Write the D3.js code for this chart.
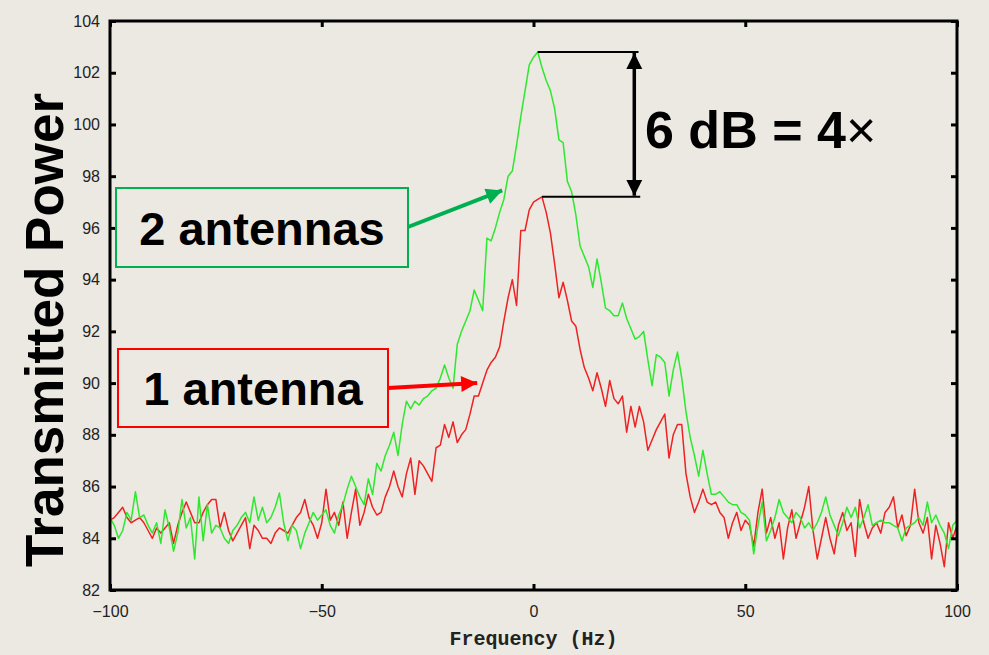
<!DOCTYPE html>
<html><head><meta charset="utf-8">
<script src="https://cdn.jsdelivr.net/npm/d3@7"></script>
<style>
html,body{margin:0;padding:0;background:#ECE9E3;}
svg{display:block;}
</style></head>
<body>
<svg id="c" width="989" height="655"></svg>
<script>
// ---- data ----
const freqs = d3.range(-100, 101, 1);
const twoAntennas = [
 84.8,84.5,84.0,84.3,85.0,84.7,85.8,84.8,84.9,84.5,
 84.2,84.6,83.8,85.1,84.4,83.5,84.2,85.5,84.4,84.8,
 83.2,85.6,83.9,85.3,84.2,84.5,84.4,84.0,83.8,84.3,
 84.5,84.8,85.0,84.6,85.6,84.7,85.2,84.6,84.8,85.2,
 85.75,84.6,83.9,84.5,84.3,83.6,84.2,84.6,85.0,84.7,
 84.9,85.1,84.5,84.2,84.9,85.3,85.9,86.4,86.0,85.6,
 85.3,86.3,85.7,86.9,86.6,87.2,87.6,88.1,87.2,88.4,
 89.3,89.0,89.3,89.15,89.4,89.5,89.7,89.8,90.2,90.7,
 90.2,89.8,91.5,92.0,92.4,92.8,93.6,93.2,92.8,95.6,
 95.5,96.0,96.6,97.1,98.0,98.2,99.2,100.3,101.3,102.3,
 102.6,102.8,102.2,101.7,101.3,100.6,99.4,99.3,97.8,97.4,
 96.5,95.3,94.9,94.5,93.7,94.8,93.9,92.9,92.8,92.6,
 92.6,93.1,92.5,92.1,91.7,91.8,92.0,90.9,89.9,91.1,
 91.0,90.8,89.5,90.5,91.2,90.2,88.9,87.9,87.2,86.4,
 87.4,86.5,85.7,85.7,85.8,85.6,85.4,85.3,85.3,85.0,
 84.9,84.7,83.4,84.5,85.4,83.9,84.3,84.8,85.5,85.0,
 84.8,84.6,85.0,84.8,84.4,84.6,84.3,84.6,85.0,85.6,
 84.9,84.5,84.1,84.6,85.2,84.8,85.2,84.4,84.8,85.3,
 84.5,84.6,84.7,84.6,84.6,84.5,84.4,83.9,84.4,84.5,
 84.6,84.8,84.5,85.4,84.6,84.9,84.5,84.2,83.6,84.5,84.7
];
const oneAntenna = [
 84.7,84.8,85.0,85.2,84.8,84.6,84.7,84.8,84.6,84.3,
 84.0,84.4,84.2,84.4,84.6,83.8,84.5,85.0,85.4,85.0,
 84.6,84.6,85.0,85.3,85.5,85.5,84.4,85.0,84.3,83.9,
 84.2,84.5,84.8,83.6,84.5,84.3,84.0,84.0,83.8,84.2,
 84.4,84.3,84.2,84.5,84.8,85.0,85.5,84.8,84.5,84.0,
 84.6,85.9,84.7,85.0,84.5,85.4,84.0,85.0,85.9,84.5,
 85.0,85.7,85.2,84.9,85.0,85.6,86.0,86.6,86.0,85.6,
 86.5,87.1,85.7,87.0,86.8,86.5,86.2,87.5,87.6,88.4,
 87.9,88.5,87.7,88.0,88.2,88.8,89.5,89.5,90.0,90.5,
 90.8,91.0,91.4,92.4,93.3,94.0,93.0,95.9,95.9,96.7,
 97.0,97.1,97.2,96.6,95.8,94.6,93.3,93.9,93.2,92.4,
 92.2,91.3,90.6,90.2,89.7,90.4,89.8,89.1,90.1,89.4,
 89.2,89.5,88.1,89.1,88.3,89.1,88.5,87.4,87.8,88.2,
 88.5,88.8,87.1,88.0,88.4,88.4,86.5,85.6,85.0,85.4,
 85.9,85.4,85.3,85.4,85.0,84.8,84.0,84.6,85.0,84.3,
 84.7,84.5,83.7,85.0,85.9,84.2,84.8,84.0,84.6,83.2,
 84.4,85.1,84.0,84.6,85.2,86.0,84.3,83.2,84.0,84.8,
 84.0,83.4,84.5,85.0,84.3,84.6,83.3,85.5,84.6,84.0,
 84.4,84.6,84.2,85.0,85.2,85.6,84.4,84.9,84.1,84.5,
 85.9,84.6,84.2,84.8,83.2,84.5,83.8,82.9,84.6,84.0,84.5
];
const xTicks = [-100, -50, 0, 50, 100];
const yTicks = [82, 84, 86, 88, 90, 92, 94, 96, 98, 100, 102, 104];
const seriesNames = ["1 antenna", "2 antennas"];
const xLabel = "Frequency (Hz)";
const yLabel = "Transmitted Power";
const gainLabel = "6 dB = 4";

// ---- layout ----
const svg = d3.select("#c");
const L = 110, R = 957, T = 21, B = 590;
const x = d3.scaleLinear().domain([-100, 100]).range([L, R]);
const y = d3.scaleLinear().domain([82, 104]).range([B, T]);

svg.append("rect").attr("width", 989).attr("height", 655).attr("fill", "#ECE9E3");

const line = d3.line().x((d, i) => x(freqs[i])).y(d => y(d));

svg.append("path").datum(oneAntenna).attr("d", line)
  .attr("fill", "none").attr("stroke", "#EE2222").attr("stroke-width", 1.5).attr("stroke-linejoin", "round");
svg.append("path").datum(twoAntennas).attr("d", line)
  .attr("fill", "none").attr("stroke", "#2EE82E").attr("stroke-width", 1.5).attr("stroke-linejoin", "round");

// frame + axes (inward ticks)
const axStyle = g => {
  g.select(".domain").remove();
  g.selectAll(".tick line").attr("stroke", "#000").attr("stroke-width", 3);
  g.selectAll(".tick text").attr("fill", "#222").style("font-family", "'Liberation Sans', Arial, sans-serif").style("font-size", "16px");
};
svg.append("g").attr("transform", `translate(0,${B})`)
  .call(d3.axisBottom(x).tickValues(xTicks).tickSizeInner(-6).tickSizeOuter(0).tickPadding(16).tickFormat(d => String(d).replace("-", "\u2212")))
  .call(axStyle);
svg.append("g").attr("transform", `translate(0,${T})`)
  .call(d3.axisTop(x).tickValues(xTicks).tickSizeInner(-6).tickSizeOuter(0).tickFormat(""))
  .call(axStyle);
svg.append("g").attr("transform", `translate(${L},0)`)
  .call(d3.axisLeft(y).tickValues(yTicks).tickSizeInner(-6).tickSizeOuter(0).tickPadding(10))
  .call(axStyle);
svg.append("g").attr("transform", `translate(${R},0)`)
  .call(d3.axisRight(y).tickValues(yTicks).tickSizeInner(-6).tickSizeOuter(0).tickFormat(""))
  .call(axStyle);
svg.append("rect").attr("x", L).attr("y", T).attr("width", R - L).attr("height", B - T)
  .attr("fill", "none").attr("stroke", "#000").attr("stroke-width", 3);

// axis titles
svg.append("text").attr("x", (L + R) / 2).attr("y", 645).attr("text-anchor", "middle")
  .style("font-family", "'Liberation Mono', 'Courier New', monospace").style("font-weight", "bold")
  .style("font-size", "20px").attr("fill", "#222").text(xLabel);
svg.append("text").attr("transform", "translate(63,330) rotate(-90)").attr("text-anchor", "middle")
  .style("font-family", "'Liberation Sans', Arial, sans-serif").style("font-weight", "bold")
  .style("font-size", "53px").attr("fill", "#000").text(yLabel);

// markers
const defs = svg.append("defs");
function marker(id, color, w, h) {
  defs.append("marker").attr("id", id).attr("viewBox", "0 0 10 10").attr("refX", 10).attr("refY", 5)
    .attr("markerUnits", "userSpaceOnUse").attr("markerWidth", w).attr("markerHeight", h).attr("orient", "auto")
    .append("path").attr("d", "M0,0 L10,5 L0,10 Z").attr("fill", color);
}
marker("mg", "#00B050", 20, 16);
marker("mr", "#FF0000", 20, 16);
marker("mk", "#000", 16, 17);

// series label boxes
const font = "'Liberation Sans', Arial, sans-serif";
function labelBox(x0, y0, w, h, color, text, tip, anchorY) {
  svg.append("rect").attr("x", x0).attr("y", y0).attr("width", w).attr("height", h)
    .attr("fill", "none").attr("stroke", color).attr("stroke-width", 2);
  svg.append("text").attr("x", x0 + w / 2).attr("y", y0 + h / 2 + 17).attr("text-anchor", "middle")
    .style("font-family", font).style("font-weight", "bold").style("font-size", "47px").attr("fill", "#000").text(text);
  svg.append("line").attr("x1", x0 + w).attr("y1", anchorY).attr("x2", tip[0]).attr("y2", tip[1])
    .attr("stroke", color).attr("stroke-width", 4)
    .attr("marker-end", color === "#00B050" ? "url(#mg)" : "url(#mr)");
}
labelBox(116, 188, 292, 79, "#00B050", seriesNames[1], [x(-7.4), y(97.45)], 227);
labelBox(118, 349, 270, 78, "#FF0000", seriesNames[0], [x(-13.3), y(90.0)], 388);

// 6 dB dimension
const gMax = d3.max(twoAntennas), rMax = d3.max(oneAntenna);
const gF = freqs[twoAntennas.indexOf(gMax)], rF = freqs[oneAntenna.indexOf(rMax)];
const dimX = x(23.8);
svg.append("line").attr("x1", x(gF)).attr("x2", x(24.8)).attr("y1", y(gMax)).attr("y2", y(gMax))
  .attr("stroke", "#000").attr("stroke-width", 2);
svg.append("line").attr("x1", x(rF)).attr("x2", x(25.2)).attr("y1", y(rMax)).attr("y2", y(rMax))
  .attr("stroke", "#000").attr("stroke-width", 2);
svg.append("line").attr("x1", dimX).attr("x2", dimX).attr("y1", y(rMax) - 1).attr("y2", y(gMax) + 1)
  .attr("stroke", "#000").attr("stroke-width", 3.5).attr("marker-end", "url(#mk)").attr("marker-start", "url(#mk2)");
defs.append("marker").attr("id", "mk2").attr("viewBox", "0 0 10 10").attr("refX", 0).attr("refY", 5)
  .attr("markerUnits", "userSpaceOnUse").attr("markerWidth", 16).attr("markerHeight", 17).attr("orient", "auto")
  .append("path").attr("d", "M10,0 L0,5 L10,10 Z").attr("fill", "#000");
const gt = svg.append("text").attr("x", 645).attr("y", 148)
  .style("font-family", font).style("font-size", "52px").attr("fill", "#000");
gt.append("tspan").style("font-weight", "bold").text(gainLabel);
gt.append("tspan").style("font-weight", "normal").text("\u00D7");
</script>
</body></html>
